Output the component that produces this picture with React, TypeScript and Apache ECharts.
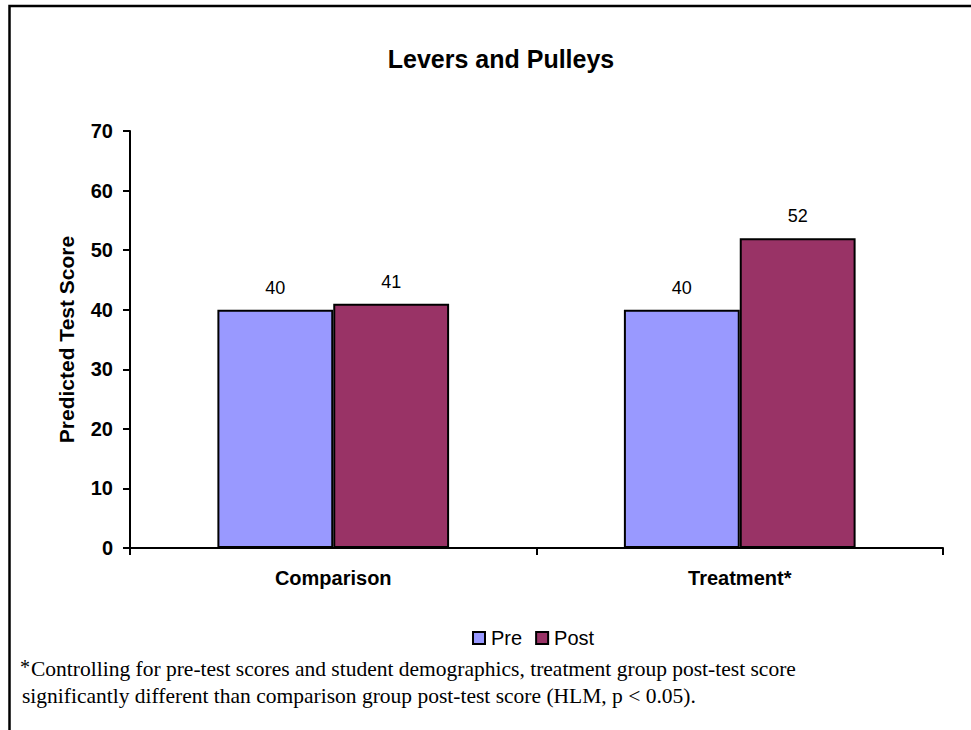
import React, { useEffect, useRef } from "react";
import * as echarts from "echarts";

const categories = ["Comparison", "Treatment*"];
const preValues = [40, 40];
const postValues = [41, 52];
const seriesNames = ["Pre", "Post"];
const titleText = "Levers and Pulleys";
const yAxisName = "Predicted Test Score";
const footnoteLine1 = "Controlling for pre-test scores and student demographics, treatment group post-test score";
const footnoteLine2 = "significantly different than comparison group post-test score (HLM, p < 0.05).";

export default function App() {
  const ref = useRef<HTMLDivElement>(null);
  useEffect(() => {
    if (!ref.current) return;
    const chart = echarts.init(ref.current, null, { renderer: "svg" });
    const sans = "Liberation Sans, Arial, sans-serif";
    const serif = "Liberation Serif, Times New Roman, serif";
    chart.setOption({
      animation: false,
      backgroundColor: "#ffffff",
      title: {
        text: titleText,
        left: 496,
        textAlign: "center",
        top: 41,
        textStyle: { fontFamily: sans, fontSize: 25, fontWeight: "bold", color: "#000" },
      },
      legend: {
        data: seriesNames,
        top: 623,
        left: 467,
        icon: "rect",
        itemWidth: 12,
        itemHeight: 12,
        itemGap: 13,
        itemStyle: { borderColor: "#000", borderWidth: 2 },
        textStyle: { fontFamily: sans, fontSize: 20, color: "#000", padding: [0, 0, 0, 1] },
      },
      grid: { left: 130, right: 28, top: 131, bottom: 182 },
      xAxis: {
        type: "category",
        data: categories,
        axisLine: { lineStyle: { color: "#000", width: 2 } },
        axisTick: { show: true, alignWithLabel: false, length: 7, lineStyle: { color: "#000", width: 2 } },
        axisLabel: { fontFamily: sans, fontSize: 20, fontWeight: "bold", color: "#000", margin: 20 },
      },
      yAxis: {
        type: "value",
        min: 0,
        max: 70,
        interval: 10,
        name: yAxisName,
        nameLocation: "middle",
        nameRotate: 90,
        nameGap: 53,
        nameTextStyle: { fontFamily: sans, fontSize: 21, fontWeight: "bold", color: "#000" },
        axisLine: { show: true, lineStyle: { color: "#000", width: 2 } },
        axisTick: { show: true, length: 7, lineStyle: { color: "#000", width: 2 } },
        splitLine: { show: false },
        axisLabel: { fontFamily: sans, fontSize: 20, fontWeight: "bold", color: "#000", margin: 17 },
      },
      series: [
        {
          name: seriesNames[0],
          type: "bar",
          data: preValues,
          barGap: "0%",
          barCategoryGap: "43%",
          itemStyle: { color: "#9999FF", borderColor: "#000", borderWidth: 2 },
          label: { show: true, position: "top", distance: 13, fontFamily: sans, fontSize: 18, color: "#000" },
        },
        {
          name: seriesNames[1],
          type: "bar",
          data: postValues,
          barGap: "0%",
          barCategoryGap: "43%",
          itemStyle: { color: "#993366", borderColor: "#000", borderWidth: 2 },
          label: { show: true, position: "top", distance: 13, fontFamily: sans, fontSize: 18, color: "#000" },
        },
      ],
      graphic: [
        {
          type: "rect",
          shape: { x: 9.5, y: 6, width: 1000, height: 800 },
          style: { fill: "none", stroke: "#000", lineWidth: 2.5 },
          silent: true,
        },
        {
          type: "text",
          x: 20,
          y: 667,
          style: { text: "*", font: `20px ${serif}`, fill: "#000", textVerticalAlign: "middle" },
        },
        {
          type: "text",
          x: 31,
          y: 669,
          style: { text: footnoteLine1, font: `21.5px ${serif}`, fill: "#000", textVerticalAlign: "middle" },
        },
        {
          type: "text",
          x: 22,
          y: 696,
          style: { text: footnoteLine2, font: `21.5px ${serif}`, fill: "#000", textVerticalAlign: "middle" },
        },
      ],
    });
    return () => chart.dispose();
  }, []);
  return <div ref={ref} style={{ position: "fixed", left: 0, top: 0, width: 971, height: 730 }} />;
}
